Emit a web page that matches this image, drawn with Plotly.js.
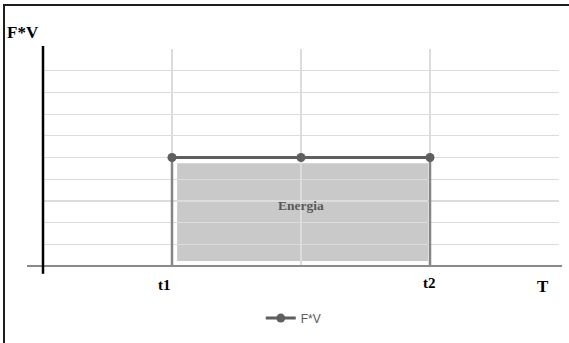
<!DOCTYPE html>
<html>
<head>
<meta charset="utf-8">
<script src="https://cdn.plot.ly/plotly-3.0.1.min.js"></script>
<style>
  html, body { margin: 0; padding: 0; background: #fff; }
  #wrap { position: relative; width: 569px; height: 343px; overflow: hidden; }
  #chart { position: absolute; left: 0; top: 0; width: 569px; height: 343px; }
  #frame { position: absolute; left: 3px; top: 4px; width: 570px; height: 337px;
           border-top: 2px solid #1e1e1e; border-left: 2px solid #1e1e1e;
           border-bottom: 2px solid #b4b4b4; pointer-events: none; }
</style>
</head>
<body>
<div id="wrap">
  <div id="chart"></div>
  <div id="frame"></div>
</div>
<script>
// ---- data ----
const seriesName = 'F*V';
const xPositions = [1, 2, 3];        // t1, midpoint, t2
const fvValues = [5, 5, 5];          // F*V level
const tickVals = [1, 3];
const tickText = ['t1', 't2'];
const xRange = [0, 4];
const yRange = [0, 10];
const areaLabel = 'Energia';
const yTitle = 'F*V';
const xTitle = 'T';

const serif = 'Liberation Serif, Times New Roman, serif';
const level = fvValues[0];

const shapes = [
  // shaded energy area
  { type: 'rect', layer: 'below', xref: 'x', yref: 'y',
    x0: xPositions[0] + 0.04, x1: xPositions[xPositions.length - 1] - 0.015,
    y0: yRange[0] + 0.23, y1: level - 0.27,
    fillcolor: '#c9c9c9', line: { width: 0 } },
  // vertical boundaries at t1 and t2
  { type: 'line', layer: 'between', xref: 'x', yref: 'y',
    x0: tickVals[0], x1: tickVals[0], y0: yRange[0] - 0.23, y1: level,
    line: { color: '#858585', width: 2.5 } },
  { type: 'line', layer: 'between', xref: 'x', yref: 'y',
    x0: tickVals[1], x1: tickVals[1], y0: yRange[0], y1: level,
    line: { color: '#858585', width: 2.5 } },
  // x axis line
  { type: 'line', layer: 'above', xref: 'paper', yref: 'paper',
    x0: -0.031, x1: 1.006, y0: 0, y1: 0,
    line: { color: '#8a8a8a', width: 2 } },
  // y axis line
  { type: 'line', layer: 'above', xref: 'paper', yref: 'paper',
    x0: 0, x1: 0, y0: -0.036, y1: 1.014,
    line: { color: '#000000', width: 2.5 } }
];

const annotations = [
  { text: '<b>' + areaLabel + '</b>', xref: 'x', yref: 'y',
    x: xPositions[1], y: 2.8, showarrow: false,
    font: { family: serif, size: 13.5, color: '#595959' } },
  { text: '<b>' + yTitle + '</b>', xref: 'paper', yref: 'paper',
    x: -0.074, y: 1.077, xanchor: 'left', yanchor: 'middle', showarrow: false,
    font: { family: serif, size: 17, color: '#000' } },
  { text: '<b>' + xTitle + '</b>', xref: 'paper', yref: 'paper',
    x: 0.969, y: -0.093, xanchor: 'center', yanchor: 'middle', showarrow: false,
    font: { family: serif, size: 17, color: '#000' } }
];
tickText.forEach((t, i) => {
  annotations.push({ text: '<b>' + t + '</b>', xref: 'x', yref: 'paper',
    x: tickVals[i], y: i === 0 ? -0.087 : -0.078, xshift: i === 0 ? -8 : -1,
    xanchor: 'center', yanchor: 'middle', showarrow: false,
    font: { family: serif, size: 15, color: '#000' } });
});

const trace = {
  type: 'scatter', mode: 'lines+markers', name: seriesName,
  x: xPositions, y: fvValues,
  line: { color: '#5f5f5f', width: 3 },
  marker: { color: '#5f5f5f', size: 9 }
};

const layout = {
  width: 569, height: 343,
  margin: { l: 43, r: 10, t: 49, b: 74 },
  paper_bgcolor: '#ffffff', plot_bgcolor: '#ffffff',
  showlegend: true,
  legend: { orientation: 'h', x: 0.486, xanchor: 'center', y: -0.24, yanchor: 'middle',
            font: { family: 'Liberation Sans, Arial, sans-serif', size: 12, color: '#595959' },
            bgcolor: 'rgba(0,0,0,0)' },
  xaxis: { range: xRange, dtick: 1, tick0: 0, showgrid: true, gridcolor: '#dcdcdc', gridwidth: 1.2,
           zeroline: false, showline: false, showticklabels: false, ticks: '', fixedrange: true },
  yaxis: { range: yRange, dtick: 1, tick0: 0, showgrid: true, gridcolor: '#dcdcdc', gridwidth: 1.2,
           zeroline: false, showline: false, showticklabels: false, ticks: '', fixedrange: true },
  shapes: shapes,
  annotations: annotations
};

Plotly.newPlot('chart', [trace], layout, { displayModeBar: false, staticPlot: true });
</script>
</body>
</html>
